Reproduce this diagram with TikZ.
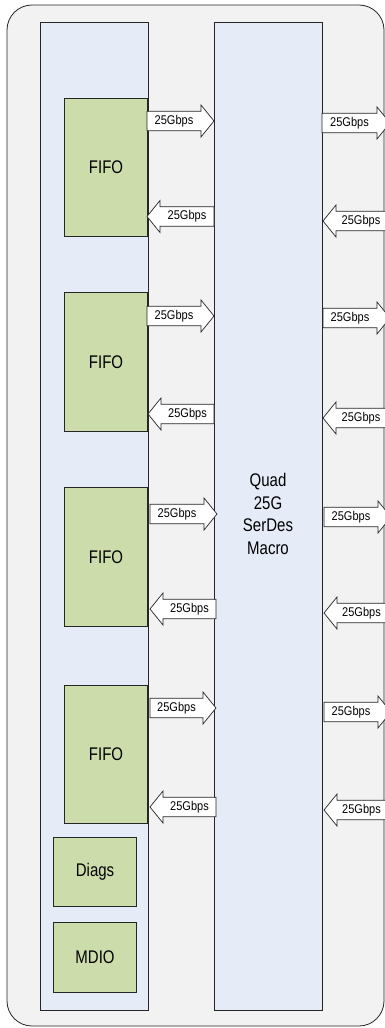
\documentclass[tikz,border=0pt]{standalone}
\usepackage{fontspec}
\setmainfont{Liberation Sans}
\definecolor{bgray}{HTML}{F2F2F2}
\definecolor{pblue}{HTML}{E5ECF7}
\definecolor{fgreen}{HTML}{CDDCAB}
\definecolor{edge}{HTML}{262626}
\newcommand{\vsm}[1]{\scalebox{1}[1.15]{#1}}
\newcommand{\vbg}[1]{\scalebox{1}[1.22]{#1}}
\newcommand{\ArR}[4]{%
  \draw[blk] (#1,#3-9.75) -- (#2-13,#3-9.75) -- (#2-13,#3-16) -- (#2,#3) -- (#2-13,#3+16) -- (#2-13,#3+9.75) -- (#1,#3+9.75) -- cycle;
  \node[lbl] (#4) at ({(#1+#2-13)/2},#3) {\vsm{25Gbps}};}
\newcommand{\ArL}[4]{%
  \draw[blk] (#2,#3-9.75) -- (#1+13,#3-9.75) -- (#1+13,#3-16) -- (#1,#3) -- (#1+13,#3+16) -- (#1+13,#3+9.75) -- (#2,#3+9.75) -- cycle;
  \node[lbl] (#4) at ({(#1+13+#2)/2},#3) {\vsm{25Gbps}};}
\begin{document}
\begin{tikzpicture}[x=1pt,y=-1pt,
  panel/.style={draw=edge, line width=0.9pt, fill=pblue, rectangle, anchor=north west, inner sep=0pt},
  greenbox/.style={draw=edge, line width=1.1pt, fill=fgreen, rectangle, anchor=north west, inner sep=0pt},
  blk/.style={draw=edge, line width=0.7pt, fill=white, line join=miter},
  lbl/.style={font=\fontsize{11}{13}\selectfont, inner sep=0pt, text=black},
  big/.style={font=\fontsize{15}{18.5}\selectfont, inner sep=0pt, text=black, align=center}]
\useasboundingbox (0,0) rectangle (385,1028);
\clip (0,0) rectangle (385,1028);
\draw[draw=edge, line width=0.8pt, fill=bgray, rounded corners=25] (7,5) rectangle (384,1026);
% panels
\node[panel, minimum width=108, minimum height=988] (left) at (39.5,22) {};
\node[panel, minimum width=108, minimum height=988] (serdes) at (214,22) {};
\node[big] (serdeslabel) at (268,516) {\vbg{\begin{tabular}{@{}c@{}}Quad\\25G\\SerDes\\Macro\end{tabular}}};
% FIFOs
\node[greenbox, minimum width=83, minimum height=138] (fifo1) at (64,98) {};
\node[greenbox, minimum width=83, minimum height=139] (fifo2) at (64,292) {};
\node[greenbox, minimum width=83, minimum height=139] (fifo3) at (64,487) {};
\node[greenbox, minimum width=83, minimum height=138] (fifo4) at (64,685) {};
\node[big] at (fifo1.center) {\vbg{FIFO}};
\node[big] at (fifo2.center) {\vbg{FIFO}};
\node[big] at (fifo3.center) {\vbg{FIFO}};
\node[big] at (fifo4.center) {\vbg{FIFO}};
\node[greenbox, minimum width=83, minimum height=69] (diags) at (53,837) {};
\node[greenbox, minimum width=83, minimum height=70] (mdio) at (53,922) {};
\node[big] at (diags.center) {\vbg{Diags}};
\node[big] at (mdio.center) {\vbg{MDIO}};
% arrows between FIFOs and SerDes
\ArR{147}{214}{121}{a1}
\ArL{147}{214}{216.5}{b1}
\ArR{147}{214}{316}{a2}
\ArL{148}{214}{414}{b2}
\ArR{150}{217}{514}{a3}
\ArL{150}{216}{609}{b3}
\ArR{150}{216}{708}{a4}
\ArL{150}{216}{807}{b4}
% arrows on the line side
\ArR{322}{390}{123}{c1}
\ArL{323}{386}{221}{d1}
\ArR{323}{390}{318}{c2}
\ArL{323}{386}{418}{d2}
\ArR{324}{391}{517}{c3}
\ArL{324}{386}{613}{d3}
\ArR{324}{391}{712}{c4}
\ArL{324}{386}{810}{d4}
\end{tikzpicture}
\end{document}
